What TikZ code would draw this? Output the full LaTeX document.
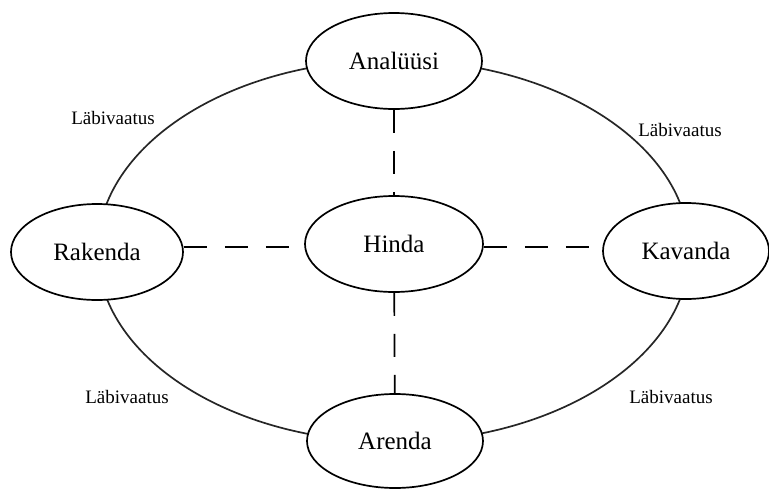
\documentclass[tikz,border=0pt]{standalone}
\usepackage{fontspec}
\setmainfont{Liberation Serif}
\usepackage{tikz}
\usetikzlibrary{positioning}
\usetikzlibrary{shapes.geometric}

\begin{document}
\begin{tikzpicture}[x=1pt,y=-1pt,
    phase/.style={draw, ellipse, fill=white, line width=1.7pt, inner sep=0pt, minimum height=96pt, font=\fontsize{25}{30}\selectfont},
    review/.style={font=\fontsize{19}{23}\selectfont},
    link/.style={line width=1.7pt, dash pattern=on 23pt off 18pt}]
  \useasboundingbox (0,0) rectangle (769,488);
  \draw[line width=1.7pt, black!85] (393.5,251) ellipse [x radius=296, y radius=191];

  \node[phase, minimum width=176pt] (ana) at (394,61) {Analüüsi};
  \node[phase, minimum width=172pt] (rak) at (97,252) {Rakenda};
  \node[phase, minimum width=178pt] (hin) at (394,244) {Hinda};
  \node[phase, minimum width=166pt] (kav) at (686,251) {Kavanda};
  \node[phase, minimum width=176pt, minimum height=94pt] (are) at (395,441) {Arenda};

  \node[review] (l1) at (113,118) {Läbivaatus};
  \node[review] (l2) at (680,130) {Läbivaatus};
  \node[review] (l3) at (127,397) {Läbivaatus};
  \node[review] (l4) at (671,397) {Läbivaatus};

  \draw[link] (ana) -- (hin);
  \draw[link] (hin) -- (are);
  \draw[link] (rak.east |- 0,247) -- (hin.west |- 0,247);
  \draw[link] (hin.east |- 0,247) -- (kav.west |- 0,247);
\end{tikzpicture}
\end{document}
